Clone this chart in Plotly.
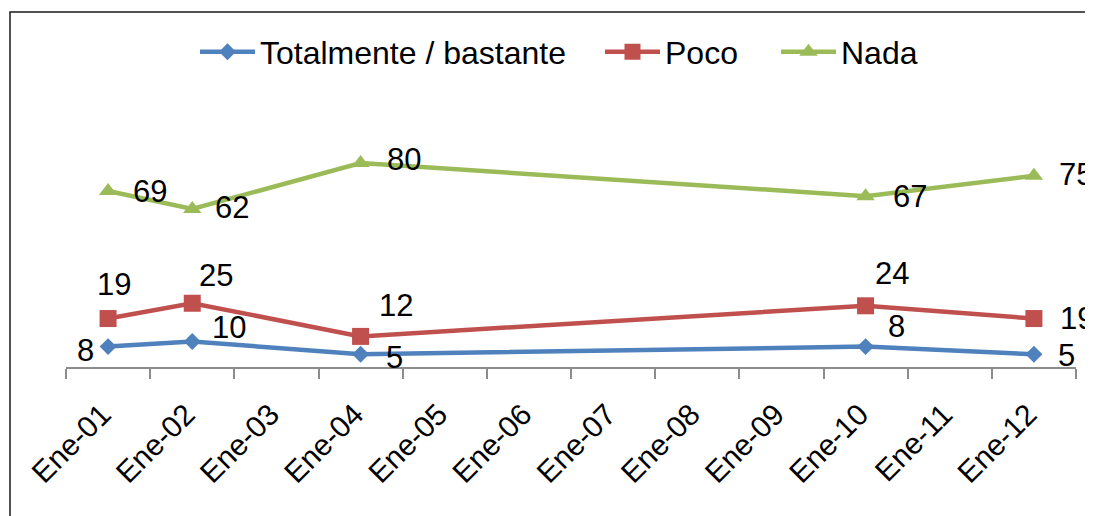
import plotly.graph_objects as go

categories = ["Ene-01", "Ene-02", "Ene-03", "Ene-04", "Ene-05", "Ene-06",
              "Ene-07", "Ene-08", "Ene-09", "Ene-10", "Ene-11", "Ene-12"]
periods = ["Ene-01", "Ene-02", "Ene-04", "Ene-10", "Ene-12"]
totalmente = [8, 10, 5, 8, 5]
poco = [19, 25, 12, 24, 19]
nada = [69, 62, 80, 67, 75]

# label offsets in px (dx right, dy down) relative to each point
off_tot = [(-23, 4), (37, -14), (34, 3), (31, -20), (33, 1)]
off_poco = [(6, -34), (24, -28), (35, -31), (26, -32), (43, 0)]
off_nada = [(42, 0), (40, -1), (43, -4), (44, 0), (42, -1)]

FONT = "Liberation Sans, Arial, sans-serif"
PAD = 8  # page body margin
W, H = 1093 - PAD, 516 - PAD
L = 66 - PAD
R = W - (1076 - PAD)
T = 130 - PAD
B = H - (367 - PAD)
pw, ph = W - L - R, H - T - B

legend_left = [202, 607, 783]  # page x where each legend symbol starts
legend_ids = ["legend", "legend2", "legend3"]

fig = go.Figure()
series = [
    ("Totalmente / bastante", totalmente, "#4F81BD", "diamond", 13, off_tot),
    ("Poco", poco, "#C0504D", "square", 17, off_poco),
    ("Nada", nada, "#9BBB59", "triangle-up", 16, off_nada),
]
for i, (name, vals, col, sym, sz, offs) in enumerate(series):
    fig.add_trace(go.Scatter(
        x=periods, y=vals, name=name, mode="lines+markers",
        line=dict(color=col, width=4.5),
        marker=dict(symbol=sym, size=sz, color=col),
        cliponaxis=False, legend=legend_ids[i],
    ))
    for xv, yv, (dx, dy) in zip(periods, vals, offs):
        fig.add_annotation(x=xv, y=yv, text=str(yv), showarrow=False,
                           xanchor="center", yanchor="middle",
                           xshift=dx, yshift=-dy,
                           font=dict(family=FONT, size=31, color="#000000"))

legend_style = dict(orientation="h", xanchor="left",
                    y=1 + (T - (52 - PAD)) / ph, yanchor="middle",
                    font=dict(family=FONT, size=32), itemwidth=55,
                    bgcolor="rgba(0,0,0,0)")
legends = {}
for lid, lx in zip(legend_ids, legend_left):
    legends[lid] = dict(legend_style, x=(lx - PAD - 7 - L) / pw)

fig.update_layout(
    width=W, height=H,
    margin=dict(l=L, r=R, t=T, b=B, autoexpand=False),
    paper_bgcolor="white", plot_bgcolor="white",
    font=dict(family=FONT, color="#000000"),
    showlegend=True,
    **legends,
    xaxis=dict(type="category", categoryorder="array", categoryarray=categories,
               range=[-0.5, 11.5], showgrid=False, zeroline=False, automargin=False,
               showline=True, linecolor="#8c8c8c", linewidth=1.5,
               ticks="outside", ticklen=10, tickcolor="#8c8c8c", tickwidth=1.5,
               tickson="boundaries", tickangle=-45,
               ticklabelstandoff=16, ticklabelshift=-6,
               tickfont=dict(family=FONT, size=30, color="#000000")),
    yaxis=dict(range=[0, ph / 2.55], visible=False, showgrid=False, zeroline=False,
               automargin=False),
    shapes=[dict(type="rect", xref="paper", yref="paper",
                 x0=(10 - 66) / pw, x1=(W + 5 - L) / pw,
                 y0=-(B + 5) / ph, y1=(ph + T - (12 - PAD)) / ph,
                 line=dict(color="#1a1a1a", width=1.5), fillcolor="rgba(0,0,0,0)",
                 layer="below")],
)

fig.write_html("out.html")
